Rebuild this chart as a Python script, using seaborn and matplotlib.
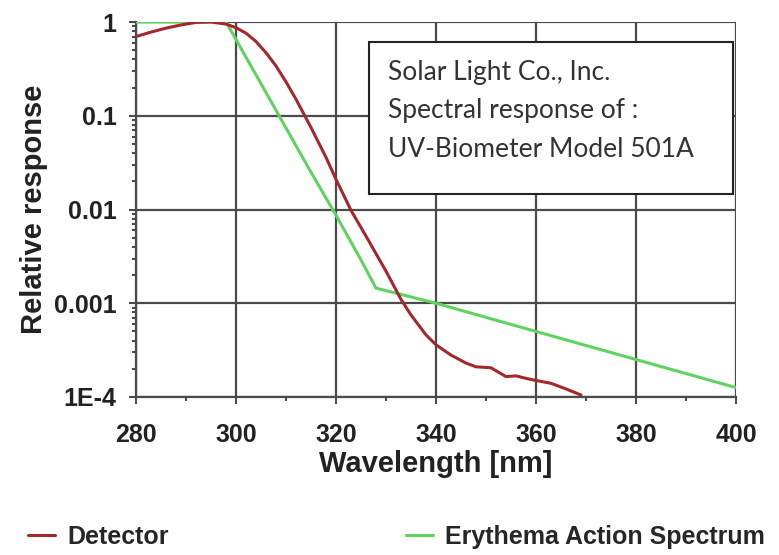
import numpy as np
import pandas as pd
import matplotlib
matplotlib.use("Agg")
import matplotlib.pyplot as plt
import matplotlib.ticker as mticker
from matplotlib.patches import Rectangle
import seaborn as sns

# Detector spectral response
det_wl = [280, 283, 286, 289, 292, 295, 298, 300, 302, 304, 306, 308, 310, 312, 315, 318, 320,
          323, 326, 330, 333, 335, 338, 340, 343, 346, 348, 351, 354, 356, 358, 360, 363, 366, 369]
det_val = [0.70, 0.78, 0.86, 0.93, 0.99, 1.0, 0.95, 0.87, 0.76, 0.62, 0.47, 0.34, 0.23, 0.15, 0.075, 0.036, 0.021,
           0.0098, 0.0052, 0.0022, 0.0011, 0.00075, 0.00046, 0.00036, 0.00028, 0.00023, 0.00021, 0.000205,
           0.000165, 0.000168, 0.000158, 0.00015, 0.00014, 0.000122, 0.000105]

# Erythema action spectrum
ery_wl = [280, 290, 298, 300, 305, 310, 315, 320, 325, 328, 340, 360, 380, 400]
ery_val = [1.0, 1.0, 1.0, 0.65, 0.22, 0.074, 0.025, 0.0087, 0.0029, 0.00145,
           0.00100, 0.000500, 0.000251, 0.000126]

xticks = [280, 300, 320, 340, 360, 380, 400]
yticks = [1e-4, 1e-3, 1e-2, 1e-1, 1]
ytick_labels = ["1E-4", "0.001", "0.01", "0.1", "1"]
box_lines = ["Solar Light Co., Inc.", "Spectral response of :", "UV-Biometer Model 501A"]

sns.set_style("white")
plt.rcParams['font.family'] = ['Liberation Sans', 'DejaVu Sans']

fig = plt.figure(figsize=(7.79, 5.55), dpi=100)
ax = fig.add_axes([136 / 779, 1 - 397 / 555, 600 / 779, 375 / 555])

df_det = pd.DataFrame({"wl": det_wl, "val": det_val})
df_ery = pd.DataFrame({"wl": ery_wl, "val": ery_val})

sns.lineplot(data=df_det, x="wl", y="val", ax=ax, color="#a3282c", linewidth=2.2,
             label="Detector", zorder=4)
sns.lineplot(data=df_ery, x="wl", y="val", ax=ax, color="#5fd35f", linewidth=2.2,
             label="Erythema Action Spectrum", zorder=3)

ax.set_yscale("log")
ax.set_xlim(280, 400)
ax.set_ylim(1e-4, 1)
ax.set_xticks(xticks)
ax.set_xticks(range(290, 400, 20), minor=True)
ax.set_yticks(yticks)
ax.yaxis.set_major_formatter(mticker.FixedFormatter(ytick_labels))
ax.yaxis.set_minor_locator(mticker.LogLocator(base=10, subs=np.arange(2, 10), numticks=20))
ax.yaxis.set_minor_formatter(mticker.NullFormatter())

ax.grid(True, which="major", color="#4a4a4a", linewidth=1.6)
ax.set_axisbelow(True)
for s in ["top", "right"]:
    ax.spines[s].set_visible(False)
for s in ["left", "bottom"]:
    ax.spines[s].set_color("#4a4a4a")
    ax.spines[s].set_linewidth(1.6)

ax.tick_params(axis="both", which="major", labelsize=18, length=5, width=1.5,
               color="#4a4a4a", direction="out", bottom=True, left=True)
ax.tick_params(axis="both", which="minor", length=3, width=1.5, color="#4a4a4a",
               direction="out", bottom=True, left=True)
for lab in ax.get_xticklabels() + ax.get_yticklabels():
    lab.set_fontweight("bold")
    lab.set_color("#222222")
ax.tick_params(axis="x", pad=14)
ax.tick_params(axis="y", pad=9)

ax.set_xlabel("Wavelength [nm]", fontsize=21, fontweight="bold", color="#222222", labelpad=2)
ax.set_ylabel("Relative response", fontsize=21, fontweight="bold", color="#222222", labelpad=4)

# annotation box
ax.add_patch(Rectangle((0.388, 0.5413), 0.607, 0.4053, transform=ax.transAxes,
                       facecolor="white", edgecolor="#222222", linewidth=1.5, zorder=5))
for line, yb in zip(box_lines, [0.8453, 0.744, 0.64]):
    ax.text(0.42, yb, line, transform=ax.transAxes, fontsize=19,
            family=["Lato", "DejaVu Sans"], color="#333333",
            va="baseline", ha="left", zorder=6)

handles, labels = ax.get_legend_handles_labels()
ax.get_legend().remove()
fig.legend(handles, labels, loc="center left", bbox_to_anchor=(28 / 779, 1 - 537 / 555), ncol=2,
           frameon=False, prop={"weight": "bold", "size": 18}, handlelength=1.08,
           handletextpad=0.48, columnspacing=9.5, borderpad=0, borderaxespad=0)

fig.savefig("out.png", dpi=100)
